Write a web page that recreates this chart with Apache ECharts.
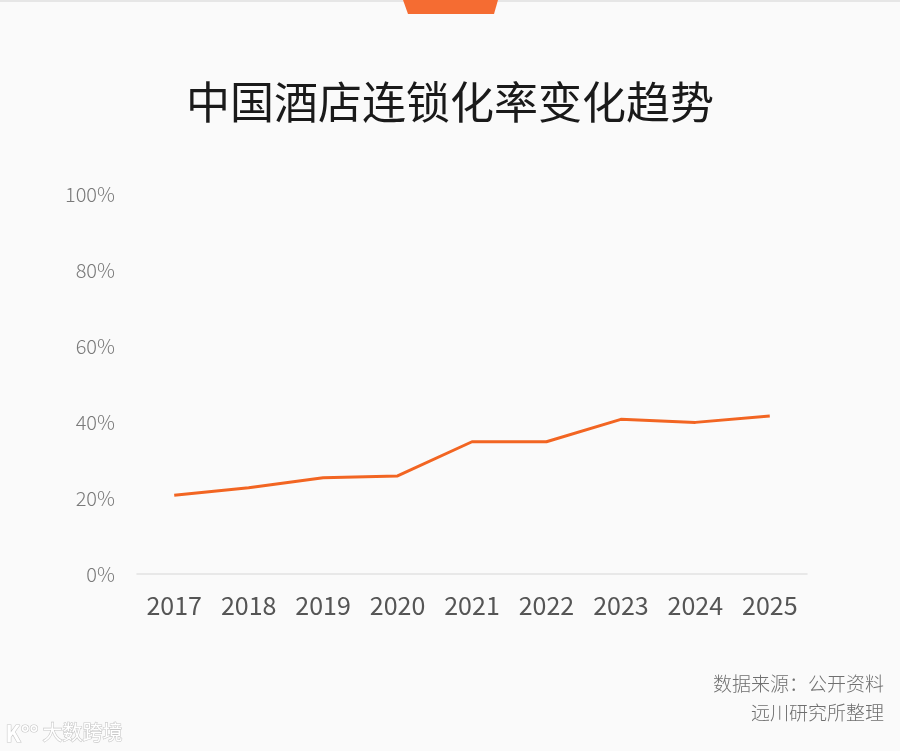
<!DOCTYPE html>
<html>
<head>
<meta charset="utf-8">
<script src="https://cdn.jsdelivr.net/npm/echarts@6/dist/echarts.min.js"></script>
<style>
  html, body { margin: 0; padding: 0; background: #fafafa; }
  #chart { width: 900px; height: 751px; }
</style>
</head>
<body>
<div id="chart"></div>
<script>
// data
var years = ['2017', '2018', '2019', '2020', '2021', '2022', '2023', '2024', '2025'];
var chainRate = [20.7, 22.7, 25.3, 25.8, 34.8, 34.8, 40.7, 39.9, 41.6];
var yTicks = [0, 20, 40, 60, 80, 100];

var FONT = '"Noto Sans CJK SC", "Noto Sans", sans-serif';
var myChart = echarts.init(document.getElementById('chart'));

var option = {
    backgroundColor: '#fafafa',
    animation: false,
    title: {
        text: '中国酒店连锁化率变化趋势',
        left: 'center',
        top: 75,
        textStyle: { fontFamily: FONT, fontSize: 44, fontWeight: 'normal', color: '#1a1a1a' }
    },
    grid: { left: 137, right: 93, top: 194, bottom: 177 },
    xAxis: {
        type: 'category',
        data: years,
        boundaryGap: true,
        axisLine: { lineStyle: { color: '#e2e2e2', width: 1.5 } },
        axisTick: { show: false },
        axisLabel: { color: '#555', fontSize: 25, fontFamily: FONT, margin: 19 }
    },
    yAxis: {
        type: 'value',
        min: yTicks[0],
        max: yTicks[yTicks.length - 1],
        interval: 20,
        splitLine: { show: false },
        axisLine: { show: false },
        axisTick: { show: false },
        axisLabel: {
            color: '#7a7a7a', fontSize: 20, fontFamily: FONT, fontWeight: 300, margin: 22,
            formatter: function (v) { return v + '%'; }
        }
    },
    series: [{
        type: 'line',
        data: chainRate,
        symbol: 'none',
        lineStyle: { color: '#f26522', width: 3 }
    }],
    graphic: [
        // thin top band and orange tab
        { type: 'rect', shape: { x: 0, y: 0, width: 900, height: 2 }, style: { fill: '#e6e6e6' } },
        { type: 'polygon', shape: { points: [[403, 0], [498, 0], [494, 14], [408, 14]] }, style: { fill: '#f56c32' } },
        {
            type: 'text', right: 16, top: 674,
            style: { text: '数据来源：公开资料', font: '300 19px ' + FONT, fill: '#6f6f6f', textAlign: 'right' }
        },
        {
            type: 'text', right: 16, top: 703,
            style: { text: '远川研究所整理', font: '300 19px ' + FONT, fill: '#6f6f6f', textAlign: 'right' }
        },
        // watermark
        {
            type: 'text', left: 5, top: 722,
            style: { text: 'K°°', font: 'bold 22px ' + FONT, fill: '#ffffff', stroke: '#c8c8c8', lineWidth: 1.2 }
        },
        {
            type: 'text', left: 42, top: 722,
            style: { text: '大数跨境', font: '20px ' + FONT, fill: '#ffffff', stroke: '#c8c8c8', lineWidth: 1.2 }
        }
    ]
};
myChart.setOption(option);
window.addEventListener('resize', function () {
    myChart.resize();
});
</script>
</body>
</html>
